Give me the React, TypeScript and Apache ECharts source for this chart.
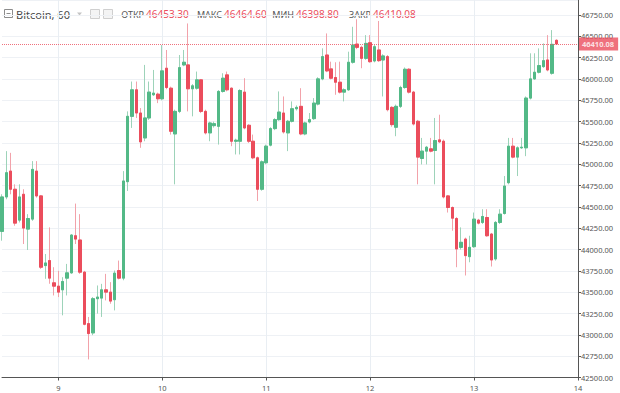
import React, { useEffect, useRef } from "react";
import * as echarts from "echarts";

// Hourly BTC candles, first candle = day 8, 11:00
const openP = [
  44213, 44617, 44920, 44707, 44345, 44648, 44240, 44357, 44920, 44629,
  43812, 43871, 43610, 43571, 43528, 43665, 43727, 44162, 44112, 43735,
  43132, 43023, 43424, 43431, 43528, 43501, 43412, 43754, 43665, 44796,
  45562, 45873, 45601, 45309, 45543, 45815, 45822, 45768, 46126, 45892,
  45356, 45620, 46165, 46165, 45885, 45892, 45990, 45620, 45368, 45453,
  45445, 45854, 46048, 45892, 45270, 45270, 45846, 45457, 45270, 45076,
  44707, 45018, 45224, 45418, 45523, 45601, 45368, 45504, 45651, 45679,
  45356, 45496, 45535, 45706, 46001, 46281, 46118, 46017, 45962, 45846,
  45873, 46196, 46409, 46371, 46242, 46425, 46211, 46340, 46223, 46262,
  45667, 45434, 45679, 45900, 46114, 45846, 45504, 45068, 45154, 45181,
  45162, 45286, 45270, 44629, 44493, 44364, 44026, 44123, 43917, 44034,
  44345, 44318, 44376, 44182, 43890, 44318, 44423, 44784, 45212, 45084,
  45193, 45193, 45776, 46001, 46079, 46145, 46223, 46067, 46453.3
];
const highP = [
  44648, 45154, 45134, 44765, 44765, 44707, 44415, 45037, 45037, 44640,
  43948, 44260, 43793, 43750, 43676, 43832, 44182, 44539, 44415, 43750,
  43210, 43443, 43579, 43598, 43715, 43618, 43754, 43871, 44920, 45620,
  45970, 45970, 45659, 46165, 45970, 46106, 45840, 46398, 46340, 45910,
  45640, 46281, 46340, 46651, 45940, 46087, 46000, 45640, 45500, 45500,
  45870, 46067, 46087, 45900, 45300, 45880, 46009, 45470, 45348, 45090,
  45045, 45230, 45435, 45540, 45854, 45795, 45520, 45737, 45690, 45892,
  45500, 45601, 45776, 46020, 46359, 46534, 46203, 46196, 46203, 45890,
  46320, 46612, 46700, 46390, 46514, 46514, 46400, 46680, 46290, 46280,
  45680, 45700, 45920, 46135, 46126, 45860, 45520, 45309, 45215, 45309,
  45543, 45581, 45290, 44640, 44505, 44380, 44260, 44140, 44162, 44434,
  44360, 44473, 44473, 44195, 44335, 44473, 44862, 45309, 45309, 45210,
  45309, 45795, 46301, 46301, 46359, 46417, 46514, 46573, 46464.6
];
const lowP = [
  44104, 44590, 44648, 44279, 44318, 44065, 43995, 44337, 44609, 43773,
  43657, 43599, 43462, 43443, 43229, 43462, 43715, 44065, 43715, 43112,
  42712, 42996, 43249, 43210, 43404, 43365, 43287, 43650, 43640, 44687,
  45426, 45543, 45193, 45270, 45520, 45800, 45717, 45750, 45880, 45348,
  44765, 45600, 46150, 45620, 45562, 45875, 45600, 45350, 45270, 45430,
  45231, 45840, 45855, 45212, 45115, 45115, 45410, 45250, 45060, 44570,
  44690, 45000, 45210, 45400, 45510, 45360, 45154, 45490, 45630, 45340,
  45340, 45480, 45520, 45690, 45985, 46080, 45995, 45815, 45830, 45737,
  45860, 46180, 46350, 46126, 46225, 46190, 46195, 46200, 45795, 45620,
  45440, 45329, 45660, 45885, 45830, 45455, 44765, 44998, 44998, 45140,
  44765, 45250, 44600, 44434, 44221, 43793, 44000, 43696, 43851, 44020,
  44295, 44300, 44150, 43801, 43870, 44300, 44410, 44765, 45070, 44862,
  45180, 45095, 45760, 45990, 46065, 46130, 46090, 46050, 46398.8
];
const closeP = [
  44617, 44901, 44707, 44310, 44617, 44252, 44364, 44940, 44629, 43793,
  43843, 43665, 43571, 43501, 43626, 43727, 44170, 44123, 43735, 43124,
  43015, 43424, 43443, 43528, 43501, 43396, 43723, 43665, 44804, 45562,
  45873, 45601, 45263, 45543, 45846, 45834, 45768, 46095, 45900, 45387,
  45620, 46133, 46196, 45885, 45920, 45990, 45620, 45368, 45484, 45476,
  45854, 46009, 45873, 45270, 45282, 45865, 45426, 45270, 45076, 44707,
  45029, 45212, 45418, 45523, 45612, 45379, 45504, 45651, 45667, 45356,
  45484, 45523, 45717, 46001, 46262, 46095, 46009, 45962, 45846, 45873,
  46196, 46398, 46371, 46242, 46417, 46203, 46378, 46215, 46270, 45640,
  45465, 45679, 45900, 46114, 45846, 45472, 45084, 45154, 45200, 45154,
  45278, 45263, 44617, 44493, 44368, 44007, 44085, 43929, 44026, 44357,
  44310, 44388, 44162, 43878, 44318, 44415, 44745, 45212, 45084, 45193,
  45200, 45776, 46001, 46079, 46157, 46215, 46106, 46406, 46410.08
];

const FIRST_DAY = 8;
const FIRST_HOUR = 11;
const SLOTS = 134; // extends to day 14, 00:00
const Y_MIN = 42500;
const Y_MAX = 46926;
const Y_STEP = 250;

const categories: string[] = Array.from({ length: SLOTS }, (_, i) => {
  const t = i + FIRST_HOUR;
  const d = FIRST_DAY + Math.floor(t / 24);
  const h = t % 24;
  return `${d} ${String(h).padStart(2, "0")}:00`;
});
const isDayStart = (i: number) => !!categories[i] && categories[i].endsWith(" 00:00");

const UP = "#53b987";
const DOWN = "#eb4d5c";
const FONT = "Noto Sans";

export default function App() {
  const ref = useRef<HTMLDivElement>(null);
  useEffect(() => {
    if (!ref.current) return;
    const chart = echarts.init(ref.current, undefined, { renderer: "svg" });
    const n = closeP.length;
    const wickData = openP.map((o, i) => [o, closeP[i], lowP[i], highP[i]]);
    const bodyData = openP.map((o, i) => [
      o,
      closeP[i],
      Math.min(o, closeP[i]),
      Math.max(o, closeP[i]),
    ]);
    const last = n - 1;
    const headerItems: any[] = [];
    const pairs: [string, number, number][] = [
      ["ОТКР", openP[last], 146],
      ["МАКС", highP[last], 224],
      ["МИН", lowP[last], 296],
      ["ЗАКР", closeP[last], 373],
    ];
    pairs.forEach(([lab, val, vx]) => {
      headerItems.push({
        type: "text",
        x: vx - 2,
        y: 14,
        style: {
          text: lab,
          fill: "#555",
          fontSize: 9,
          fontFamily: FONT,
          align: "right",
          verticalAlign: "middle",
        },
      });
      headerItems.push({
        type: "text",
        x: vx,
        y: 14,
        style: { text: val.toFixed(2), fill: DOWN, fontSize: 10, fontFamily: FONT, verticalAlign: "middle" },
      });
    });

    chart.setOption({
      animation: false,
      backgroundColor: "#fff",
      textStyle: { fontFamily: FONT },
      grid: {
        left: 2,
        right: 42,
        top: 0,
        bottom: 15.5,
        containLabel: false,
        outerBoundsMode: "none",
      },
      xAxis: {
        type: "category",
        data: categories,
        boundaryGap: false,
        axisLine: { show: true, lineStyle: { color: "#555", width: 1 } },
        axisTick: {
          show: true,
          length: 3,
          interval: (i: number) => isDayStart(i),
          lineStyle: { color: "#555" },
        },
        axisLabel: {
          interval: (i: number) => isDayStart(i),
          formatter: (v: string) => v.split(" ")[0],
          fontSize: 7.5,
          color: "#555",
          margin: 6,
        },
        splitLine: {
          show: true,
          interval: (i: number) => isDayStart(i),
          lineStyle: { color: "#e9eef3", width: 1 },
        },
      },
      yAxis: {
        type: "value",
        position: "right",
        min: Y_MIN,
        max: Y_MAX,
        interval: Y_STEP,
        axisLine: { show: true, lineStyle: { color: "#555", width: 1 } },
        axisTick: { show: true, length: 3, lineStyle: { color: "#555" } },
        axisLabel: {
          formatter: (v: number) => (v % Y_STEP === 0 ? v.toFixed(2) : ""),
          fontSize: 7.5,
          color: "#555",
          margin: 3,
          showMaxLabel: false,
        },
        splitLine: { show: true, lineStyle: { color: "#eef1f5", width: 1 } },
      },
      graphic: [
        { type: "rect", shape: { x: 4.5, y: 9.5, width: 8, height: 8 }, style: { fill: "none", stroke: "#8c8c8c", lineWidth: 1 } },
        { type: "line", shape: { x1: 6.5, y1: 13.5, x2: 10.5, y2: 13.5 }, style: { stroke: "#8c8c8c", lineWidth: 1 } },
        {
          type: "text",
          x: 16,
          y: 14,
          style: { text: "Bitcoin, 60", fill: "#4a4a4a", fontSize: 11, fontFamily: FONT, verticalAlign: "middle" },
        },
        { type: "polygon", shape: { points: [[77, 12.5], [82, 12.5], [79.5, 15.5]] }, style: { fill: "#c4c4c4" } },
        { type: "rect", shape: { x: 90.5, y: 9.5, width: 9, height: 9 }, style: { fill: "#f4f4f4", stroke: "#cfcfcf", lineWidth: 1 } },
        { type: "rect", shape: { x: 103.5, y: 9.5, width: 9, height: 9 }, style: { fill: "#f4f4f4", stroke: "#cfcfcf", lineWidth: 1 } },
        ...headerItems,
      ],
      series: [
        {
          name: "wicks",
          type: "candlestick",
          data: wickData,
          barWidth: 3,
          clip: false,
          silent: true,
          itemStyle: {
            color: "rgba(0,0,0,0)",
            color0: "rgba(0,0,0,0)",
            borderColor: "#9dd3b9",
            borderColor0: "#f2a2aa",
            borderWidth: 1,
          },
        },
        {
          name: "Bitcoin",
          type: "candlestick",
          data: bodyData,
          barWidth: 3,
          clip: false,
          itemStyle: {
            color: UP,
            color0: DOWN,
            borderColor: UP,
            borderColor0: DOWN,
            borderWidth: 1,
          },
          markLine: {
            silent: true,
            symbol: ["none", "none"],
            data: [{ yAxis: closeP[last] }],
            lineStyle: { color: DOWN, type: "dotted", width: 1, opacity: 0.8 },
            label: {
              show: true,
              position: "end",
              formatter: closeP[last].toFixed(2),
              color: "#fff",
              backgroundColor: DOWN,
              fontSize: 7.5,
              fontWeight: "bold",
              padding: [3, 4, 2, 3],
              distance: 1,
            },
          },
        },
      ],
    });
    return () => chart.dispose();
  }, []);
  return (
    <div
      ref={ref}
      style={{ position: "fixed", left: 0, top: 0, width: 620, height: 393, background: "#fff" }}
    />
  );
}
